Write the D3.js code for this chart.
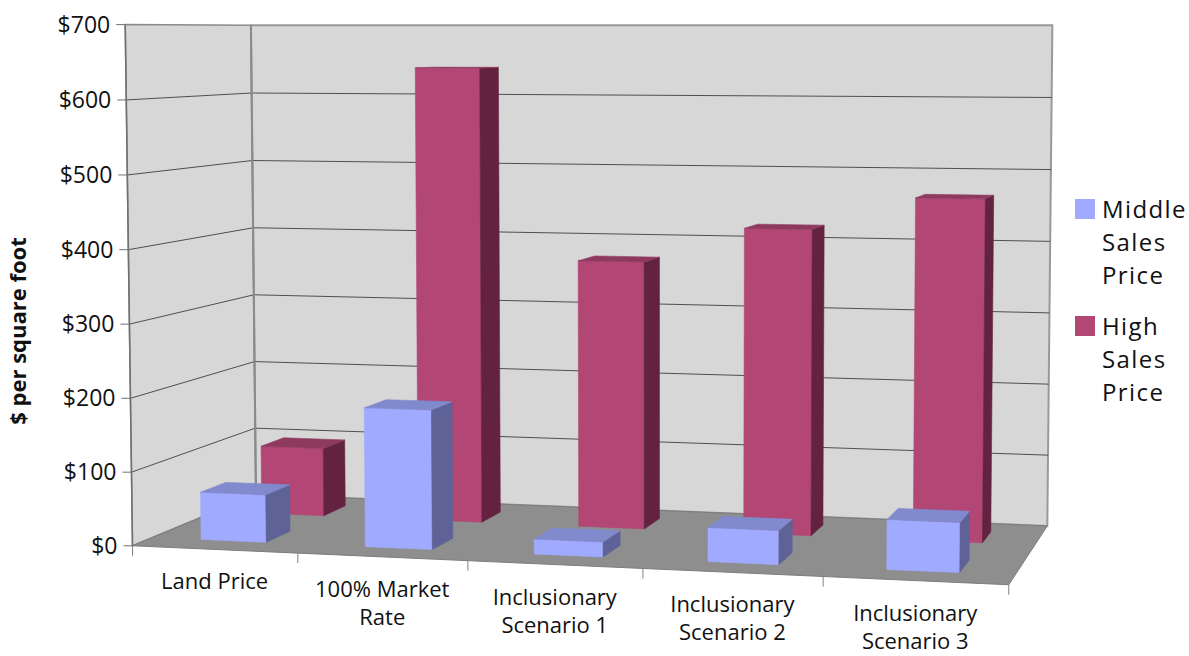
<!DOCTYPE html>
<html>
<head>
<meta charset="utf-8">
<script src="https://cdn.jsdelivr.net/npm/d3@7"></script>
<style>
  html, body { margin: 0; padding: 0; background: #fff; }
  svg { display: block; }
  text { font-family: "Open Sans", sans-serif; fill: #111; }
</style>
</head>
<body>
<svg id="chart" width="1189" height="656"></svg>
<script>
// ---- data ----
const categories = ["Land Price", "100% Market Rate", "Inclusionary Scenario 1", "Inclusionary Scenario 2", "Inclusionary Scenario 3"];
const seriesNames = ["Middle Sales Price", "High Sales Price"];
const middleValues = [65, 188, 20, 45, 65];
const highValues = [97, 640, 373, 422, 467];
const valueTicks = [0, 100, 200, 300, 400, 500, 600, 700];
const axisTitle = "$ per square foot";

// ---- styles ----
const frontColors = ["#a0aaff", "#b24775"];
const topColors = ["#808acc", "#8e395e"];
const sideColors = ["#5e6296", "#632340"];

// ---- 3D scales (world units: one category step = 1, depth = 2, height = 7) ----
const xScale = d3.scaleBand().domain(categories).range([0, categories.length])
  .paddingInner(0.6).paddingOuter(0.3);
const zScale = d3.scaleBand().domain(seriesNames).range([0, seriesNames.length])
  .paddingInner(0.6).paddingOuter(0.3);
const yScale = d3.scaleLinear().domain([0, 700]).range([0, 7]);
const W = categories.length, D = seriesNames.length, H = yScale(700);

// Where the plot box sits on the page: world point -> screen point.
// The perspective camera is solved from these.
const frameAnchors = [
  { w: [0, 0, 0], s: [133, 546] }, { w: [0, 700, 0], s: [126, 25] },
  { w: [0, 0, 2], s: [256, 495] }, { w: [0, 700, 2], s: [251, 25] },
  { w: [5, 0, 2], s: [1047, 526] }, { w: [5, 700, 2], s: [1052, 25] },
  { w: [5, 0, 0], s: [1009, 585] }, { w: [1, 0, 0], s: [298, 553] },
  { w: [2, 0, 0], s: [468, 560] }, { w: [3, 0, 0], s: [643, 568] },
  { w: [4, 0, 0], s: [823, 577] }, { w: [0, 100, 0], s: [131, 472] },
  { w: [0, 600, 0], s: [125, 100] }, { w: [0, 100, 2], s: [255, 428] },
  { w: [0, 600, 2], s: [252, 93] }, { w: [5, 600, 2], s: [1052, 98] },
  { w: [5, 500, 2], s: [1051, 169] }
];

function solve(A, b) {
  const n = b.length;
  const M = A.map((r, i) => r.concat([b[i]]));
  for (let c = 0; c < n; c++) {
    let piv = c;
    for (let r = c + 1; r < n; r++) if (Math.abs(M[r][c]) > Math.abs(M[piv][c])) piv = r;
    [M[c], M[piv]] = [M[piv], M[c]];
    for (let r = 0; r < n; r++) {
      if (r === c) continue;
      const f = M[r][c] / M[c][c];
      for (let k = c; k <= n; k++) M[r][k] -= f * M[c][k];
    }
  }
  return M.map((r, i) => r[n] / r[i]);
}

// Direct linear transform, least squares, normalised screen coordinates
const su = 600, sv = 300, sc = 500;
const P = (() => {
  const rows = [], rhs = [];
  frameAnchors.forEach(({ w, s }) => {
    const X = w[0], Y = yScale(w[1]), Z = w[2];
    const u = (s[0] - su) / sc, v = (s[1] - sv) / sc;
    rows.push([X, Y, Z, 1, 0, 0, 0, 0, -u * X, -u * Y, -u * Z]); rhs.push(u);
    rows.push([0, 0, 0, 0, X, Y, Z, 1, -v * X, -v * Y, -v * Z]); rhs.push(v);
  });
  const n = 11;
  const A = Array.from({ length: n }, () => new Array(n).fill(0));
  const b = new Array(n).fill(0);
  rows.forEach((r, k) => {
    for (let i = 0; i < n; i++) {
      b[i] += r[i] * rhs[k];
      for (let j = 0; j < n; j++) A[i][j] += r[i] * r[j];
    }
  });
  return solve(A, b);
})();

function project(X, Y, Z) {
  const w = P[8] * X + P[9] * Y + P[10] * Z + 1;
  const u = (P[0] * X + P[1] * Y + P[2] * Z + P[3]) / w;
  const v = (P[4] * X + P[5] * Y + P[6] * Z + P[7]) / w;
  return [u * sc + su, v * sc + sv];
}
// camera centre, for face visibility and draw order
const camera = solve([[P[0], P[1], P[2]], [P[4], P[5], P[6]], [P[8], P[9], P[10]]], [-P[3], -P[7], -1]);

const svg = d3.select("#chart");
const line = d3.line();
const poly = pts => line(pts.map(p => project(p[0], p[1], p[2]))) + "Z";

// ---- walls and floor ----
const gWalls = svg.append("g");
gWalls.append("path").attr("d", poly([[0, 0, 0], [0, 0, D], [0, H, D], [0, H, 0]]))
  .attr("fill", "#d7d7d7").attr("stroke", "#8a8a8a").attr("stroke-width", 1.5);
gWalls.append("path").attr("d", poly([[0, 0, D], [W, 0, D], [W, H, D], [0, H, D]]))
  .attr("fill", "#d7d7d7").attr("stroke", "#999").attr("stroke-width", 2);

const gridValues = valueTicks.filter(v => v > 0 && v < 700);
const gGrid = svg.append("g").attr("stroke", "#4f4f4f").attr("stroke-width", 1).attr("fill", "none");
gridValues.forEach(v => {
  const y = yScale(v);
  gGrid.append("path").attr("d", line([project(0, y, 0), project(0, y, D), project(W, y, D)]));
});
// back-left corner edge
svg.append("path").attr("d", line([project(0, 0, D), project(0, H, D)]))
  .attr("stroke", "#8a8a8a").attr("stroke-width", 2).attr("fill", "none");

svg.append("path").attr("d", poly([[0, 0, 0], [W, 0, 0], [W, 0, D], [0, 0, D]]))
  .attr("fill", "#8e8e8e").attr("stroke", "#7c7c7c").attr("stroke-width", 1);

// ---- bars ----
const valueSets = [middleValues, highValues];
const bars = [];
seriesNames.forEach((s, si) => {
  categories.forEach((c, ci) => {
    const x0 = xScale(c), x1 = x0 + xScale.bandwidth();
    const z0 = zScale(s), z1 = z0 + zScale.bandwidth();
    const h = yScale(valueSets[si][ci]);
    const centre = [(x0 + x1) / 2, h / 2, (z0 + z1) / 2];
    const dist = Math.hypot(centre[0] - camera[0], centre[1] - camera[1], centre[2] - camera[2]);
    bars.push({ si, x0, x1, z0, z1, h, dist });
  });
});
bars.sort((a, b) => b.dist - a.dist);

const gBars = svg.append("g");
bars.forEach(b => {
  const { x0, x1, z0, z1, h, si } = b;
  const faces = [
    { n: [0, 0, -1], p: [x0, 0, z0], pts: [[x0, 0, z0], [x1, 0, z0], [x1, h, z0], [x0, h, z0]], c: frontColors[si] },
    { n: [0, 0, 1], p: [x0, 0, z1], pts: [[x0, 0, z1], [x1, 0, z1], [x1, h, z1], [x0, h, z1]], c: frontColors[si] },
    { n: [-1, 0, 0], p: [x0, 0, z0], pts: [[x0, 0, z0], [x0, 0, z1], [x0, h, z1], [x0, h, z0]], c: sideColors[si] },
    { n: [1, 0, 0], p: [x1, 0, z0], pts: [[x1, 0, z0], [x1, 0, z1], [x1, h, z1], [x1, h, z0]], c: sideColors[si] },
    { n: [0, 1, 0], p: [x0, h, z0], pts: [[x0, h, z0], [x1, h, z0], [x1, h, z1], [x0, h, z1]], c: topColors[si] }
  ];
  faces.forEach(f => {
    const d = f.n[0] * (camera[0] - f.p[0]) + f.n[1] * (camera[1] - f.p[1]) + f.n[2] * (camera[2] - f.p[2]);
    if (d <= 0) return;
    gBars.append("path").attr("d", poly(f.pts))
      .attr("fill", f.c).attr("stroke", f.c).attr("stroke-width", 0.6).attr("stroke-linejoin", "round");
  });
});

// ---- value axis ----
const gAxis = svg.append("g");
gAxis.append("path").attr("d", line([project(0, 0, 0), project(0, H, 0)]))
  .attr("stroke", "#707070").attr("stroke-width", 1.5).attr("fill", "none");
const fmt = d3.format("$,");
valueTicks.forEach(v => {
  const [px, py] = project(0, yScale(v), 0);
  gAxis.append("line").attr("x1", px - 9).attr("x2", px).attr("y1", py).attr("y2", py)
    .attr("stroke", "#707070").attr("stroke-width", 1);
  gAxis.append("text").attr("x", px - 15).attr("y", py).attr("dy", "0.35em")
    .attr("text-anchor", "end").attr("font-size", 23).text(fmt(v));
});

// ---- category axis ----
const gCat = svg.append("g");
d3.range(categories.length + 1).forEach(k => {
  const [px, py] = project(k * xScale.step(), 0, 0);
  gCat.append("line").attr("x1", px).attr("x2", px).attr("y1", py).attr("y2", py + 10)
    .attr("stroke", "#808080").attr("stroke-width", 1);
});
categories.forEach(c => {
  const [px, py] = project(xScale(c) + xScale.bandwidth() / 2, 0, 0);
  const t = gCat.append("text").attr("x", px).attr("y", py + 40)
    .attr("text-anchor", "middle").attr("font-size", 22);
  // wrap into lines no wider than the category slot
  const words = c.split(" ");
  const lines = [];
  let cur = [];
  const probe = t.append("tspan");
  words.forEach(wd => {
    const trial = cur.concat([wd]).join(" ");
    probe.text(trial);
    if (cur.length && probe.node().getComputedTextLength() > 150) {
      lines.push(cur.join(" ")); cur = [wd];
    } else cur.push(wd);
  });
  lines.push(cur.join(" "));
  probe.remove();
  lines.forEach((ln, i) => {
    t.append("tspan").attr("x", px).attr("dy", i === 0 ? 0 : 28).text(ln);
  });
});

// ---- axis title ----
svg.append("text").attr("transform", "translate(26,331) rotate(-90)")
  .attr("text-anchor", "middle").attr("font-size", 22).attr("font-weight", "bold")
  .text(axisTitle);

// ---- legend ----
const gLegend = svg.append("g").attr("transform", "translate(1075,199)");
seriesNames.forEach((s, i) => {
  const g = gLegend.append("g").attr("transform", `translate(0,${i * 117})`);
  g.append("rect").attr("width", 20).attr("height", 20).attr("fill", frontColors[i]);
  const t = g.append("text").attr("x", 27).attr("y", 19).attr("font-size", 24)
    .attr("letter-spacing", 1.4);
  s.split(" ").forEach((wd, j) => {
    t.append("tspan").attr("x", 27).attr("dy", j === 0 ? 0 : 33).text(wd);
  });
});
</script>
</body>
</html>
